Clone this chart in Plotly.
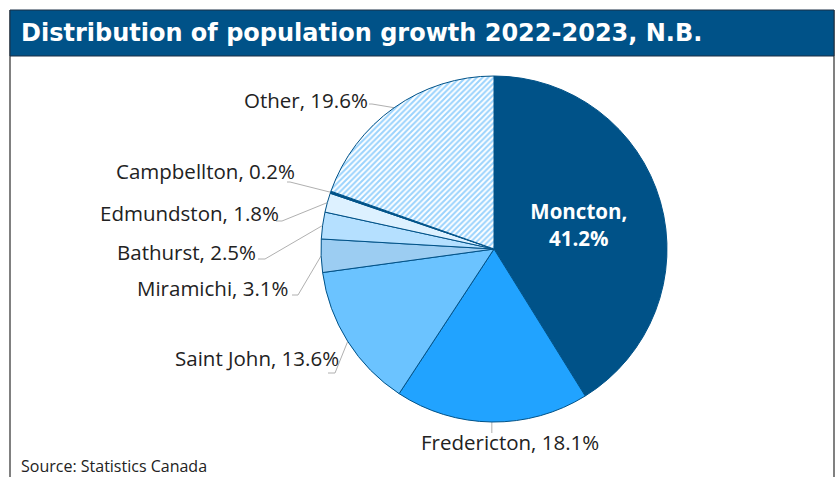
import math
import plotly.graph_objects as go

# ---- data ----
cities = ["Moncton", "Fredericton", "Saint John", "Miramichi", "Bathurst",
          "Edmundston", "Campbellton", "Other"]
shares = [41.2, 18.1, 13.6, 3.1, 2.5, 1.8, 0.2, 19.6]
colors = ["#005288", "#21a3ff", "#6bc3ff", "#9ccdf2", "#b5e0ff",
          "#ddf1ff", "#005288", "#ffffff"]

W, H = 837, 477
CX, CY, R = 494, 249, 173

def px(x):
    return x / W

def py(y):
    return 1 - y / H

# label layout (pixel positions of label text ends / elbows)
label_layout = {
    "Other":       dict(tx=370, ty=100, anchor="right", sx=369, sy=104, ex=372),
    "Campbellton": dict(tx=297, ty=171, anchor="right", sx=287, sy=182, ex=290),
    "Edmundston":  dict(tx=281, ty=213, anchor="right", sx=276, sy=221, ex=282),
    "Bathurst":    dict(tx=258, ty=252, anchor="right", sx=258, sy=259, ex=265),
    "Miramichi":   dict(tx=291, ty=288, anchor="right", sx=292, sy=295, ex=298),
    "Saint John":  dict(tx=341, ty=358, anchor="right", sx=328, sy=373, ex=335),
    "Fredericton": dict(tx=419, ty=442, anchor="left",  sx=None, sy=433, ex=None),
}

total = sum(shares)
textpos = ["inside" if c == "Moncton" else "none" for c in cities]
texts = [f"<b>{c},<br>{v}%</b>" for c, v in zip(cities, shares)]

pattern_shapes = ["/" if c == "Other" else "" for c in cities]

fig = go.Figure()
fig.add_trace(go.Pie(
    labels=cities, values=shares, sort=False, direction="clockwise",
    text=texts, textinfo="text", textposition=textpos,
    insidetextorientation="horizontal",
    insidetextfont=dict(family="Open Sans", size=20.5, color="white"),
    marker=dict(colors=colors, line=dict(color="#005288", width=1),
                pattern=dict(shape=pattern_shapes, fgcolor="#9ad3fd",
                             bgcolor="#ffffff", size=4, solidity=0.5)),
    domain=dict(x=[px(CX - R), px(CX + R)], y=[py(CY + R), py(CY - R)]),
    showlegend=False, hoverinfo="label+value",
))

shapes = []
annotations = []

# frame + title bar
shapes.append(dict(type="line", xref="paper", yref="paper", x0=px(10), x1=px(10),
                   y0=0, y1=py(10), line=dict(color="#808080", width=2)))
shapes.append(dict(type="line", xref="paper", yref="paper", x0=px(834), x1=px(834),
                   y0=0, y1=py(10), line=dict(color="#808080", width=2)))
shapes.append(dict(type="rect", xref="paper", yref="paper", x0=px(10), x1=px(834),
                   y0=py(56), y1=py(10), fillcolor="#005288",
                   line=dict(color="#1a2f45", width=1)))
annotations.append(dict(text="<b>Distribution of population growth 2022-2023, N.B.</b>",
                        xref="paper", yref="paper", x=px(19), y=py(33),
                        xanchor="left", yanchor="middle", showarrow=False,
                        font=dict(family="DejaVu Sans", size=24, color="white")))
annotations.append(dict(text="Source: Statistics Canada", xref="paper", yref="paper",
                        x=px(19), y=py(466), xanchor="left", yanchor="middle",
                        showarrow=False,
                        font=dict(family="Open Sans", size=16, color="#222222")))

# outside labels with connectors from slice mid-angles
cum = 0.0
for c, v in zip(cities, shares):
    mid = (cum + v / 2) / total * 2 * math.pi
    cum += v
    if c not in label_layout:
        continue
    L = label_layout[c]
    edge_x = CX + R * math.sin(mid)
    edge_y = CY - R * math.cos(mid)
    annotations.append(dict(text=f"{c}, {v}%", xref="paper", yref="paper",
                            x=px(L["tx"]), y=py(L["ty"]), xanchor=L["anchor"],
                            yanchor="middle", showarrow=False,
                            font=dict(family="Open Sans", size=20.5, color="#222222")))
    if L["sx"] is None:
        path = f"M {px(edge_x)},{py(edge_y)} L {px(edge_x)},{py(L['sy'])}"
    else:
        path = (f"M {px(L['sx'])},{py(L['sy'])} L {px(L['ex'])},{py(L['sy'])} "
                f"L {px(edge_x)},{py(edge_y)}")
    shapes.append(dict(type="path", xref="paper", yref="paper", path=path,
                       line=dict(color="#b0b0b0", width=1), layer="below"))

fig.update_layout(width=W, height=H, margin=dict(l=0, r=0, t=0, b=0),
                  paper_bgcolor="white", plot_bgcolor="white",
                  shapes=shapes, annotations=annotations)

fig.write_html("out.html")
